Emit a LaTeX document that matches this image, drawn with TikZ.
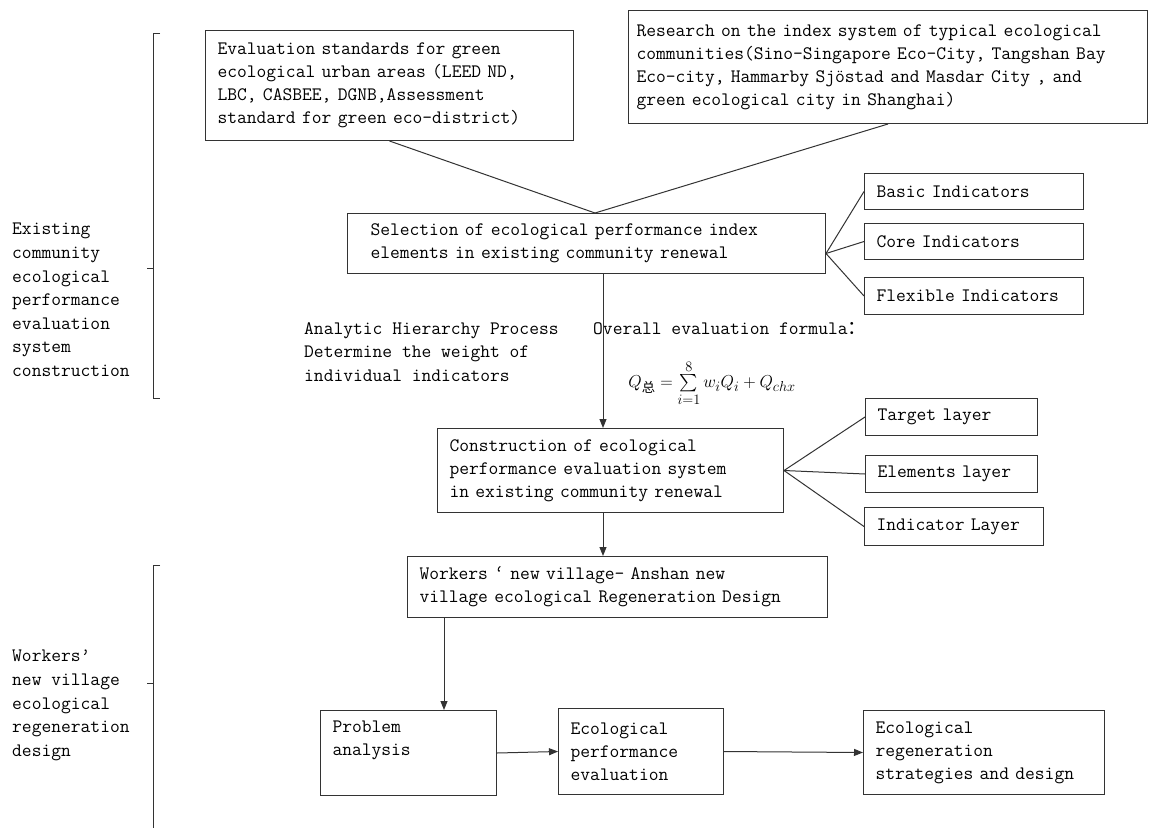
\documentclass[tikz,border=0pt]{standalone}
\usepackage{fontspec}
\usepackage{amsmath}
\newfontfamily\cjk{Noto Sans CJK SC}
\usetikzlibrary{arrows.meta,calc}
\newcommand\dtxt{\ttfamily\fontsize{19}{23}\selectfont}
\newcommand\ltxt{\ttfamily\fontsize{19}{23.6}\selectfont}
\begin{document}
\begin{tikzpicture}[x=1pt,y=-1pt,
  ln/.style={draw=black!80, line width=1pt},
  arr/.style={ln, -{Triangle[length=9pt,width=7pt]}},
  bx/.style={ln, rectangle, anchor=north west, align=left, inner xsep=12pt, inner ysep=0pt, font=\dtxt},
  lbl/.style={anchor=north west, align=left, inner sep=0pt, font=\ltxt}]
\useasboundingbox[fill=white] (0,0) rectangle (1157,828);

% boxes
\node[bx, minimum width=368pt, minimum height=110pt, text width=344pt] (A) at (205,30)
 {Evaluation standards for green\\ecological urban areas (LEED ND,\\LBC, CASBEE, DGNB,Assessment\\standard for green eco-district)};
\node[bx, inner xsep=8pt, minimum width=519pt, minimum height=113pt, text width=503pt] (B) at (628,10)
 {Research on the index system of typical ecological\\communities(Sino-Singapore Eco-City, Tangshan Bay\\Eco-city, Hammarby Sjöstad and Masdar City , and\\green ecological city in Shanghai)};
\node[bx, inner xsep=23pt, minimum width=478pt, minimum height=60pt, text width=432pt] (C) at (347,213)
 {Selection of ecological performance index\\elements in existing community renewal};
\node[bx, minimum width=219pt, minimum height=36pt, text width=195pt] (basic) at (864,173) {Basic Indicators};
\node[bx, minimum width=219pt, minimum height=36pt, text width=195pt] (core) at (864,223) {Core Indicators};
\node[bx, minimum width=219pt, minimum height=37pt, text width=195pt] (flex) at (864,277) {Flexible Indicators};
\node[bx, minimum width=346pt, minimum height=84pt, text width=322pt] (D) at (437,428)
 {Construction of ecological\\performance evaluation system\\in existing community renewal};
\node[bx, minimum width=172pt, minimum height=37pt, text width=148pt] (target) at (865,398) {Target layer};
\node[bx, minimum width=172pt, minimum height=37pt, text width=148pt] (elem) at (865,455) {Elements layer};
\node[bx, minimum width=179pt, minimum height=38pt, text width=155pt] (indl) at (864,507) {Indicator Layer};
\node[bx, minimum width=420pt, minimum height=61pt, text width=396pt] (E) at (407,556)
 {Workers ‘ new village- Anshan new\\village ecological Regeneration Design};
\node[bx, minimum width=176pt, minimum height=85pt, text width=152pt] (P) at (320,710)
 {Problem\\analysis\\\strut};
\node[bx, minimum width=165pt, minimum height=86pt, text width=141pt] (Q) at (558,708)
 {Ecological\\performance\\evaluation};
\node[bx, minimum width=241pt, minimum height=84pt, text width=217pt] (R) at (863,710)
 {Ecological\\regeneration\\strategies and design};

% labels
\node[lbl] (L1) at (12,223) {Existing\\community\\ecological\\performance\\evaluation\\system\\construction};
\node[lbl] (L2) at (12,650) {Workers’\\new village\\ecological\\regeneration\\design};
\node[lbl] (ahp) at (304,322) {Analytic Hierarchy Process\\Determine the weight of\\individual indicators};
\node[lbl] (ov) at (593,322) {Overall evaluation formula{\cjk ：}};
\node[inner sep=0pt] (form) at (712,383)
 {\fontsize{19}{22}\selectfont $Q_{\text{\cjk 总}}=\sum\limits_{i=1}^{8} w_iQ_i+Q_{chx}$};

% connectors
\coordinate (j1) at (595,213);
\draw[ln] (A.south) -- (j1);
\draw[ln] (B.south) -- (j1);
\coordinate (cR) at ($(C.east)+(0,10)$);
\draw[ln] (cR) -- (basic.west);
\draw[ln] (cR) -- (core.west);
\draw[ln] (cR) -- (flex.west);
\draw[ln] (D.east) -- (target.west);
\draw[ln] (D.east) -- (elem.west);
\draw[ln] (D.east) -- (indl.west);
\coordinate (ax) at (603,0);
\coordinate (bx) at (444,0);
\draw[arr] (C.south -| ax) -- (D.north -| ax);
\draw[arr] (D.south -| ax) -- (E.north -| ax);
\draw[arr] (E.south -| bx) -- (P.north -| bx);
\draw[arr] (P.east) -- (Q.west);
\draw[arr] (Q.east) -- (R.west);

% brackets
\coordinate (b1t) at (153,33);
\coordinate (b1b) at (153,398);
\coordinate (b2t) at (153,565);
\coordinate (b2b) at (153,828);
\draw[ln] ($(b1t)+(7,0)$) -- (b1t) -- (b1b) -- ($(b1b)+(7,0)$);
\draw[ln] (147,268) -- (153,268);
\draw[ln] ($(b2t)+(7,0)$) -- (b2t) -- (b2b);
\draw[ln] (147,683) -- (153,683);
\end{tikzpicture}
\end{document}
